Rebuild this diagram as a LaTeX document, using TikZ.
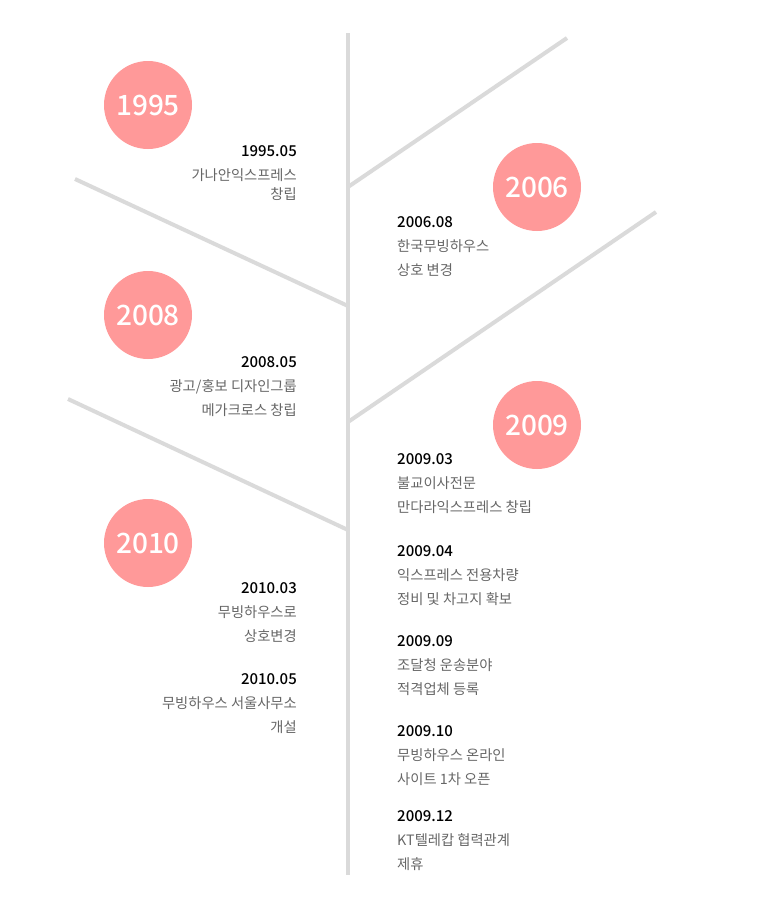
\documentclass[tikz,border=0pt]{standalone}
\usepackage{fontspec}
\setmainfont{Noto Sans CJK KR}
\newfontfamily\medfont{Noto Sans CJK KR Medium}
\usetikzlibrary{positioning}

\definecolor{stemgray}{HTML}{DADADA}
\definecolor{yearpink}{HTML}{FF9999}
\definecolor{notegray}{HTML}{666666}

\tikzset{
  stem/.style={draw=stemgray, line width=4pt},
  year/.style={circle, fill=yearpink, minimum size=88pt, inner sep=0pt,
    text=white, font=\medfont\fontsize{28}{30}\selectfont},
  eventL/.style={anchor=north east, align=right, inner sep=0pt,
    text=notegray, font=\fontsize{14.3}{24}\selectfont},
  eventR/.style={anchor=north west, align=left, inner sep=0pt,
    text=notegray, font=\fontsize{14.3}{24}\selectfont},
}
\newcommand{\evdate}[1]{{\color{black}\medfont\fontsize{15}{24}\selectfont #1}}

\begin{document}
\begin{tikzpicture}[x=1pt, y=-1pt]
  \useasboundingbox (0,0) rectangle (780,905);

  % Draw the trunk
  \coordinate (top) at (348,33);
  \coordinate (bottom) at (348,875);
  \draw[stem] (top) -- (bottom);

  % Draw the branches
  \coordinate (b1) at (348,187);
  \coordinate (t1) at (567,38);
  \coordinate (b2) at (348,306);
  \coordinate (t2) at (75,179);
  \coordinate (b3) at (348,422);
  \coordinate (t3) at (656,212);
  \coordinate (b4) at (348,530);
  \coordinate (t4) at (68,399);
  \draw[stem] (b1) -- (t1);
  \draw[stem] (b2) -- (t2);
  \draw[stem] (b3) -- (t3);
  \draw[stem] (b4) -- (t4);

  % Draw the year circles
  \node[year] (y1995) at (148,105) {1995};
  \node[year] (y2006) at (537,187) {2006};
  \node[year] (y2008) at (148,315) {2008};
  \node[year] (y2009) at (537,425) {2009};
  \node[year] (y2010) at (148,543) {2010};

  % Add the events, left side
  \node[eventL] (e1995) at (297,145) {\evdate{1995.05}\\가나안익스프레스\\[-5pt]창립};
  \node[eventL] (e2008) at (297,356) {\evdate{2008.05}\\광고/홍보 디자인그룹\\메가크로스 창립};
  \node[eventL] (e2010a) at (297,582) {\evdate{2010.03}\\무빙하우스로\\상호변경};
  \node[eventL] (e2010b) at (297,673) {\evdate{2010.05}\\무빙하우스 서울사무소\\개설};

  % Add the events, right side
  \node[eventR] (e2006) at (397,216) {\evdate{2006.08}\\한국무빙하우스\\상호 변경};
  \node[eventR] (e2009a) at (397,453) {\evdate{2009.03}\\불교이사전문\\만다라익스프레스 창립};
  \node[eventR] (e2009b) at (397,545) {\evdate{2009.04}\\익스프레스 전용차량\\정비 및 차고지 확보};
  \node[eventR] (e2009c) at (397,635) {\evdate{2009.09}\\조달청 운송분야\\적격업체 등록};
  \node[eventR] (e2009d) at (397,725) {\evdate{2009.10}\\무빙하우스 온라인\\사이트 1차 오픈};
  \node[eventR] (e2009e) at (397,810) {\evdate{2009.12}\\KT텔레캅 협력관계\\제휴};
\end{tikzpicture}
\end{document}
